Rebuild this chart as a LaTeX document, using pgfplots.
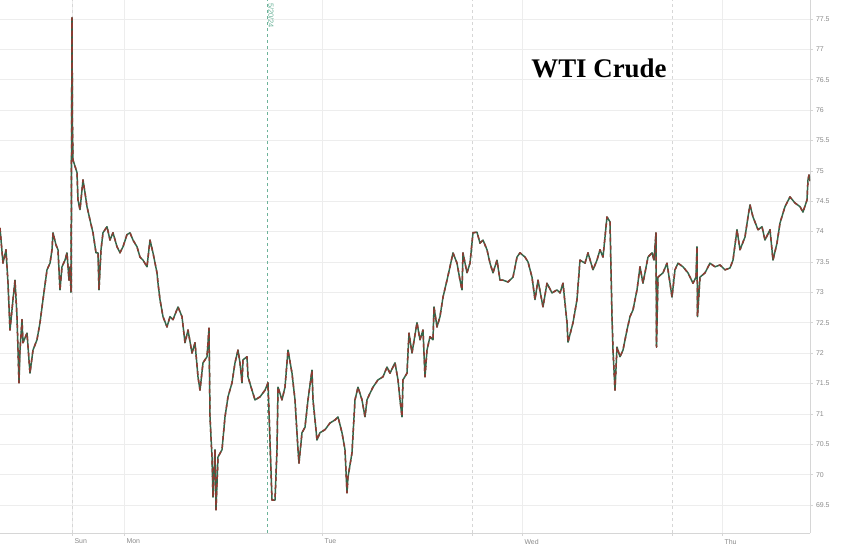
\documentclass[border=0pt]{standalone}
\usepackage{fontspec}
\setmainfont{Liberation Sans}
\newfontfamily\titlefont{Liberation Serif}
\usepackage{pgfplots}
\usepackage{pgfplotstable}
\pgfplotsset{compat=1.18}

\definecolor{upc}{HTML}{35664A}
\definecolor{dnc}{HTML}{8E3B32}
\definecolor{gridc}{HTML}{EDEDED}
\definecolor{axc}{HTML}{D6D6D6}
\definecolor{lblc}{HTML}{8A8A8A}
\definecolor{eiac}{HTML}{6DB39A}
\definecolor{tagc}{HTML}{1E6B35}

% x = position along the session axis, y = WTI price
\pgfplotstableread{
x y
0 74.06
3 73.48
6 73.70
8 73.15
10 72.38
13 72.88
15 73.20
17 72.60
19 71.51
20 72.05
22 72.55
23 72.17
27 72.33
30 71.67
33 72.05
37 72.22
40 72.50
43 72.88
47 73.37
50 73.48
52 73.70
53 73.98
56 73.78
58 73.70
60 73.04
62 73.42
65 73.53
67 73.65
69 73.20
70 73.42
71 73.00
72 77.52
72.5 75.72
73 75.18
77 74.97
78 74.52
80 74.36
83 74.85
85 74.64
87 74.41
90 74.19
93 73.98
96 73.65
98 73.65
99 73.04
101 73.70
103 73.98
107 74.08
110 73.86
113 73.98
117 73.75
120 73.65
123 73.75
127 73.95
130 73.98
133 73.86
137 73.75
140 73.58
143 73.53
147 73.42
150 73.86
153 73.65
157 73.32
158 73.15
160 72.88
163 72.60
167 72.43
170 72.60
173 72.55
178 72.76
182 72.60
185 72.17
188 72.38
192 72.00
195 72.17
198 71.61
200 71.39
203 71.84
207 71.94
209 72.41
210 70.95
212 70.29
213 69.63
215 70.41
216 69.42
218 70.29
222 70.41
225 70.95
228 71.28
232 71.51
235 71.84
238 72.05
240 71.84
242 71.51
243 71.89
247 71.94
248 71.61
252 71.39
255 71.23
260 71.28
265 71.39
268 71.51
272 69.58
275 69.58
277 70.41
278 71.44
282 71.23
285 71.44
288 72.05
292 71.67
295 71.23
298 70.41
299 70.19
302 70.69
305 70.78
308 71.23
312 71.72
313 71.23
317 70.57
320 70.69
325 70.74
330 70.85
335 70.90
338 70.95
342 70.69
345 70.41
347 69.70
348 69.96
352 70.36
355 71.23
358 71.44
362 71.23
365 70.95
367 71.23
370 71.34
373 71.44
378 71.56
383 71.61
387 71.77
390 71.67
395 71.84
398 71.56
400 71.23
402 70.95
403 71.56
407 71.67
409 72.33
412 72.00
417 72.50
420 72.22
423 72.38
425 71.61
427 72.05
430 72.27
433 72.22
434 72.76
437 72.43
440 72.60
443 72.92
447 73.20
450 73.42
453 73.65
457 73.48
460 73.20
462 73.04
463 73.65
467 73.32
470 73.48
473 73.98
477 73.99
480 73.81
483 73.86
487 73.70
490 73.48
493 73.32
497 73.53
500 73.20
503 73.20
508 73.17
513 73.25
517 73.58
520 73.65
525 73.58
528 73.50
532 73.25
535 72.88
538 73.20
543 72.76
547 73.15
552 72.99
557 73.04
560 72.99
563 73.15
567 72.50
568 72.18
573 72.50
577 72.88
580 73.53
585 73.48
588 73.65
593 73.37
597 73.53
600 73.70
603 73.58
607 74.24
610 74.16
612 72.60
613 72.05
615 71.39
617 72.10
620 71.94
623 72.05
627 72.38
630 72.60
633 72.71
637 73.04
640 73.42
643 73.15
648 73.58
652 73.65
654 73.53
656 73.98
656.5 72.10
658 73.25
663 73.32
667 73.48
670 73.15
672 72.92
675 73.37
678 73.48
683 73.42
688 73.32
693 73.15
696 73.25
697 73.75
697.5 72.60
700 73.25
705 73.32
710 73.48
715 73.42
720 73.45
725 73.37
730 73.40
733 73.53
737 74.03
740 73.70
745 73.91
748 74.24
750 74.44
753 74.24
758 74.03
762 74.08
765 73.86
770 74.03
773 73.53
777 73.81
780 74.14
785 74.41
790 74.57
795 74.47
800 74.41
803 74.32
807 74.52
808 74.85
809 74.93
810 74.83
}\wti

\begin{document}
\begin{tikzpicture}
\useasboundingbox (0,-14bp) rectangle (848bp,533bp);
\begin{axis}[
    at={(0,0)}, anchor=south west,
    scale only axis,
    width=810bp, height=533bp,
    xmin=0, xmax=810,
    ymin=69.04, ymax=77.81,
    axis lines*=right,
    axis x line*=bottom,
    axis line style={axc, line width=0.6pt},
    ytick={69.5,70,...,77.5},
    yticklabel pos=right,
    xtick={72,124,322,522,722},
    xticklabels={Sun,Mon,Tue,Wed,Thu},
    xticklabel style={anchor=north west, xshift=-1bp},
    extra x ticks={472,672},
    extra x tick labels={},
    extra x tick style={grid=major, major grid style={axc, dashed, line width=0.5pt}},
    grid=major,
    major grid style={gridc, line width=0.5pt},
    tick align=outside,
    major tick length=2.5bp,
    tick style={axc, line width=0.5pt},
    ticklabel style={font=\fontsize{7}{8}\selectfont, text=lblc},
    /pgf/number format/.cd, fixed, precision=1, assume math mode=true,
]
% session separators
\draw[axc, dashed, line width=0.6pt] (axis cs:72,69.04) -- (axis cs:72,77.81);
\draw[eiac, dashed, line width=0.7pt] (axis cs:267,69.04) -- (axis cs:267,77.81);
\node[rotate=-90, anchor=south west, text=eiac, font=\fontsize{7.5}{8}\selectfont, inner sep=1bp]
    at (axis cs:267,77.78) {5/20/24};

\addplot[upc, line width=1.5pt, line join=round, mark=none] table[x=x, y=y] {\wti};
\addplot[dnc, line width=1.5pt, line join=round, mark=none, dash pattern=on 4pt off 4pt] table[x=x, y=y] {\wti};

% title
\node[text=black, font=\titlefont\bfseries\fontsize{27}{30}\selectfont]
    at (axis cs:599,76.69) {WTI Crude};

% last price tag
\node[anchor=west, fill=tagc, text=white, font=\fontsize{5.5}{6}\selectfont,
      inner xsep=1.5bp, inner ysep=1.2bp, xshift=2bp] at (axis cs:810,74.83) {74.83};
\end{axis}
\end{tikzpicture}
\end{document}
